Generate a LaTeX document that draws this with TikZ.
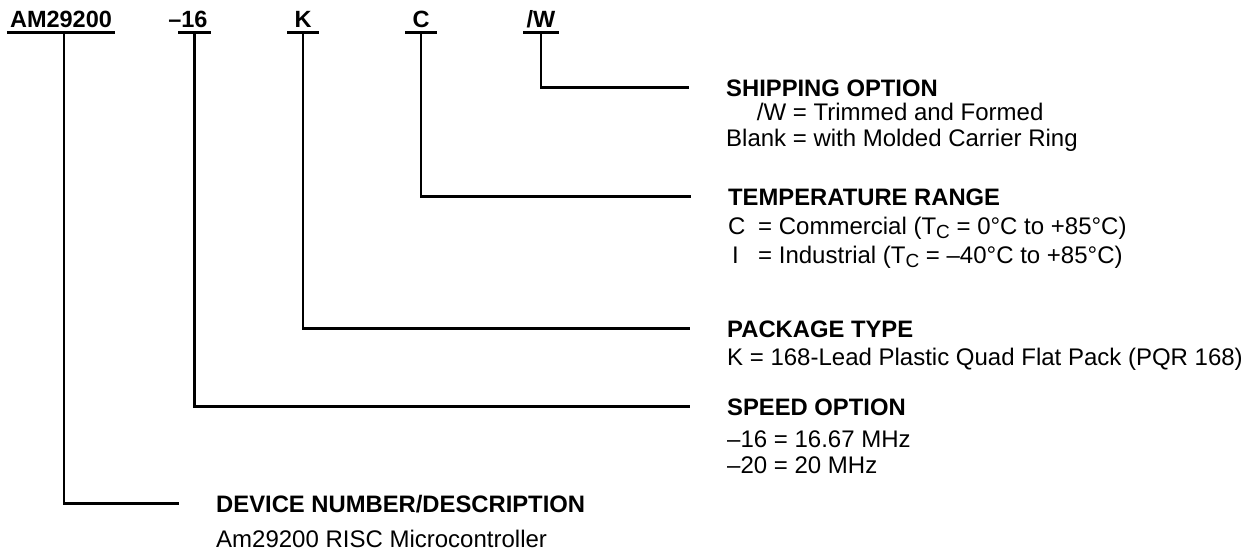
\documentclass[tikz,border=0pt]{standalone}
\usepackage{fontspec}
\setmainfont{Liberation Sans}
\usetikzlibrary{positioning}

\newcommand{\subc}{\raisebox{-4.5pt}{\fontsize{19}{19}\selectfont C}}

\begin{document}
\begin{tikzpicture}[
  x=1pt, y=-1pt,
  every node/.style={font=\fontsize{24}{27}\selectfont, inner sep=0pt},
  codigo/.style={
    font=\bfseries\fontsize{23.5}{27}\selectfont,
    anchor=base, text depth=0pt,
    inner xsep=3pt, inner ysep=5pt, minimum width=31pt
  },
  titulo/.style={
    font=\bfseries\fontsize{23.8}{27}\selectfont,
    anchor=base west, text height=17pt, text depth=0pt
  },
  desc/.style={anchor=base west},
  raya/.style={line width=2.2pt},
  subraya/.style={line width=2.6pt}
]
  \useasboundingbox (0,0) rectangle (1254,552);

  % --- Campos del codigo de pedido ---
  \node[codigo] (p-dev) at (61,27)    {AM29200};
  \node[codigo] (p-spd) at (194.5,27) {\llap{–}16};
  \node[codigo] (p-pkg) at (303,27)   {K};
  \node[codigo] (p-tmp) at (421,27)   {C};
  \node[codigo] (p-shp) at (541,27)   {/W};

  \foreach \campo in {p-dev, p-spd, p-pkg, p-tmp, p-shp}
    \draw[subraya] (\campo.south west) -- (\campo.south east);

  % --- Titulos de cada opcion ---
  \node[titulo] (h-shp) at (726,96)  {SHIPPING OPTION};
  \node[titulo] (h-tmp) at (728,205) {TEMPERATURE RANGE};
  \node[titulo] (h-pkg) at (727,337) {PACKAGE TYPE};
  \node[titulo] (h-spd) at (727,415) {SPEED OPTION};
  \node[titulo] (h-dev) at (216,512) {DEVICE NUMBER/DESCRIPTION};

  % --- Descripciones ---
  \node[below=24pt of h-shp.base west, desc] (d-shp) {%
    \begin{tabular}[t]{@{}r@{ = }l@{}}
      /W    & Trimmed and Formed\\[-1pt]
      Blank & with Molded Carrier Ring
    \end{tabular}};
  \node[below=29pt of h-tmp.base west, desc] (d-tmp) {%
    \begin{tabular}[t]{@{}l@{}}
      \makebox[30pt][l]{C}= Commercial (T\subc{} = 0°C to +85°C)\\[2pt]
      \makebox[30pt][l]{\hspace{4pt}I}= Industrial (T\subc{} = –40°C to +85°C)
    \end{tabular}};
  \node[below=28pt of h-pkg.base west, desc] (d-pkg)
    {K = 168-Lead Plastic Quad Flat Pack (PQR 168)};
  \node[below=32pt of h-spd.base west, desc] (d-spd) {%
    \begin{tabular}[t]{@{}l@{}}
      –16 = 16.67 MHz\\[-1pt]
      –20 = 20 MHz
    \end{tabular}};
  \node[below=35pt of h-dev.base west, desc] (d-dev)
    {Am29200 RISC Microcontroller};

  % --- Lineas de cada campo a su titulo ---
  \draw[raya] (p-shp.south) |- ([xshift=-37pt]h-shp.west);
  \draw[raya] (p-tmp.south) |- ([xshift=-37pt]h-tmp.west);
  \draw[raya] (p-pkg.south) |- ([xshift=-37pt]h-pkg.west);
  \draw[raya] (p-spd.south) |- ([xshift=-37pt]h-spd.west);
  \draw[raya] ([xshift=3pt]p-dev.south) |- ([xshift=-37pt]h-dev.west);
\end{tikzpicture}
\end{document}
